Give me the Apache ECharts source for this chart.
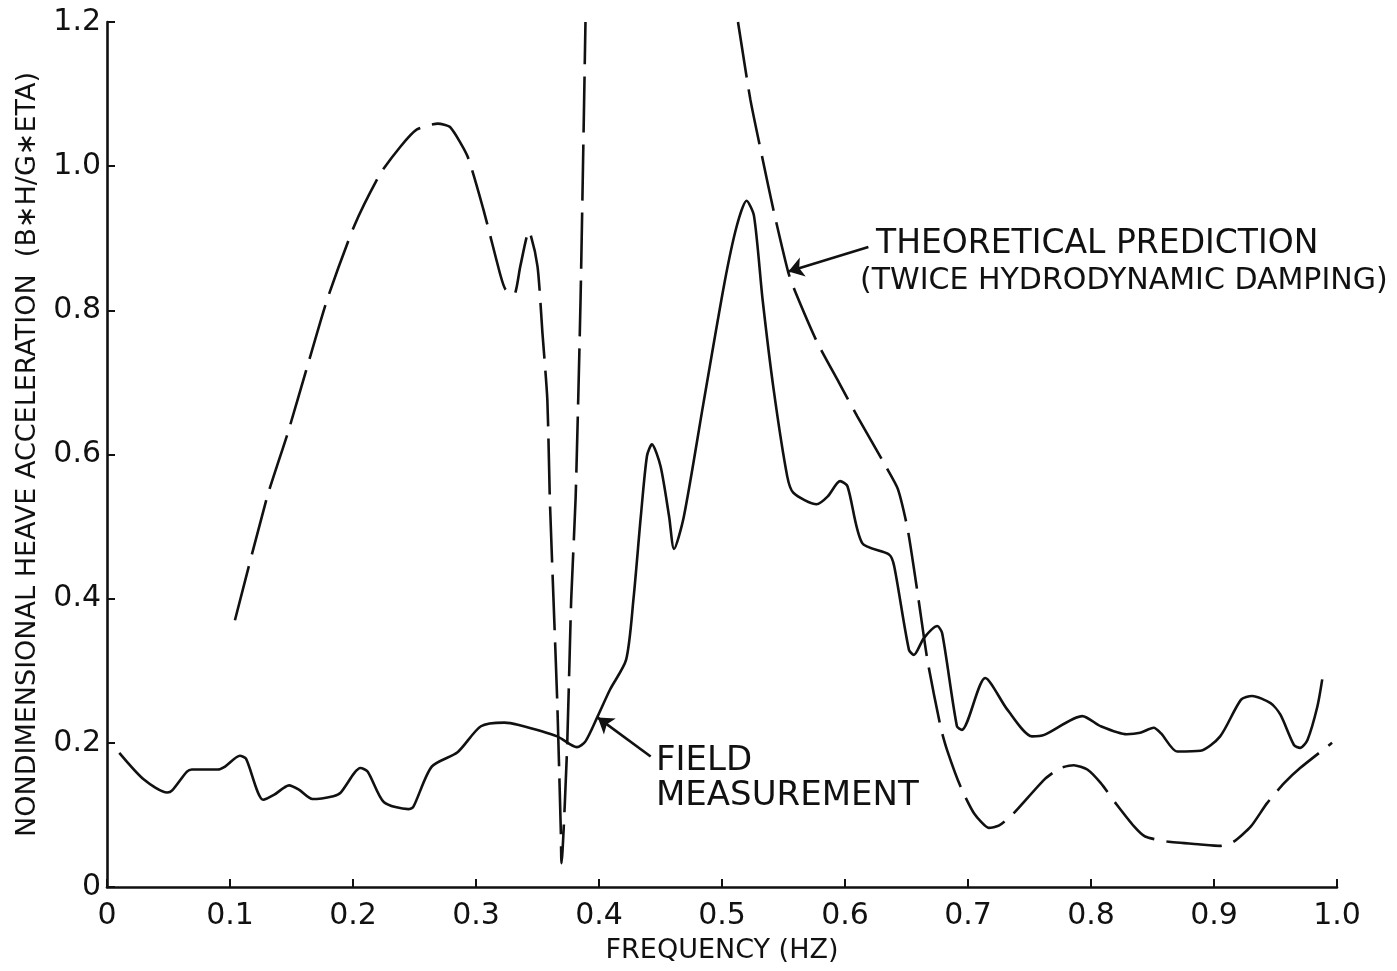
<!DOCTYPE html>
<html>
<head>
<meta charset="utf-8">
<script src="https://cdn.jsdelivr.net/npm/echarts@6/dist/echarts.min.js"></script>
<style>
  html, body { margin: 0; padding: 0; background: #fff; }
  #chart { width: 1397px; height: 971px; }
</style>
</head>
<body>
<div id="chart"></div>
<script>
// Field measurement of heave acceleration vs. frequency (solid curve)
const fieldFreq = [
  0.010, 0.030, 0.049, 0.053, 0.065, 0.069, 0.090, 0.096, 0.108, 0.113,
  0.127, 0.136, 0.148, 0.156, 0.167, 0.184, 0.190, 0.201, 0.206, 0.212,
  0.225, 0.245, 0.249, 0.264, 0.285, 0.304, 0.323, 0.334, 0.366, 0.382,
  0.389, 0.399, 0.409, 0.422, 0.428, 0.434, 0.439, 0.443, 0.450, 0.457,
  0.461, 0.469, 0.485, 0.502, 0.512, 0.520, 0.526, 0.533, 0.542, 0.553,
  0.558, 0.577, 0.586, 0.596, 0.602, 0.614, 0.636, 0.640, 0.652, 0.656,
  0.664, 0.675, 0.679, 0.691, 0.695, 0.714, 0.732, 0.752, 0.762, 0.793,
  0.808, 0.829, 0.840, 0.851, 0.857, 0.870, 0.889, 0.905, 0.922, 0.931,
  0.946, 0.954, 0.965, 0.970, 0.976, 0.984, 0.988
];
const fieldAcc = [
  0.186, 0.149, 0.131, 0.134, 0.160, 0.163, 0.163, 0.167, 0.182, 0.178,
  0.121, 0.128, 0.141, 0.135, 0.122, 0.126, 0.131, 0.158, 0.165, 0.160,
  0.118, 0.108, 0.111, 0.167, 0.187, 0.223, 0.228, 0.225, 0.209, 0.194,
  0.202, 0.237, 0.274, 0.315, 0.399, 0.514, 0.598, 0.614, 0.584, 0.514,
  0.469, 0.514, 0.672, 0.838, 0.917, 0.952, 0.931, 0.815, 0.690, 0.570,
  0.547, 0.531, 0.542, 0.563, 0.556, 0.477, 0.461, 0.445, 0.329, 0.322,
  0.345, 0.362, 0.352, 0.223, 0.218, 0.290, 0.246, 0.209, 0.211, 0.237,
  0.223, 0.212, 0.214, 0.221, 0.213, 0.188, 0.189, 0.209, 0.260, 0.265,
  0.255, 0.239, 0.197, 0.193, 0.204, 0.250, 0.288
];

// Theoretical prediction, twice hydrodynamic damping (dashed curve);
// null marks the stretch that runs above the top of the axis
const theoryFreq = [
  0.104, 0.130, 0.147, 0.163, 0.179, 0.201, 0.222, 0.239, 0.252, 0.269,
  0.279, 0.293, 0.306, 0.320, 0.324, 0.331, 0.336, 0.343, 0.350, 0.354,
  0.358, 0.360, 0.363, 0.366, 0.369, 0.3695, 0.374, 0.3774, 0.381, 0.385,
  0.389, 0.45,
  0.513, 0.523, 0.533, 0.542, 0.554, 0.560, 0.577, 0.595, 0.610, 0.633,
  0.643, 0.651, 0.659, 0.667, 0.678, 0.683, 0.694, 0.705, 0.717, 0.725,
  0.737, 0.762, 0.775, 0.786, 0.797, 0.808, 0.821, 0.835, 0.844, 0.862,
  0.889, 0.905, 0.916, 0.930, 0.943, 0.957, 0.970, 0.996
];
const theoryAcc = [
  0.370, 0.540, 0.630, 0.723, 0.815, 0.917, 0.989, 1.028, 1.051, 1.059,
  1.054, 1.014, 0.940, 0.848, 0.829, 0.822, 0.861, 0.910, 0.861, 0.769,
  0.676, 0.540, 0.399, 0.260, 0.075, 0.033, 0.190, 0.399, 0.540, 0.815,
  1.200, null,
  1.200, 1.093, 1.010, 0.938, 0.852, 0.824, 0.757, 0.700, 0.653, 0.584,
  0.552, 0.496, 0.408, 0.315, 0.220, 0.190, 0.139, 0.102, 0.082, 0.085,
  0.102, 0.149, 0.165, 0.169, 0.163, 0.144, 0.114, 0.084, 0.070, 0.063,
  0.059, 0.057, 0.063, 0.084, 0.116, 0.144, 0.165, 0.200
];

const xTicks = [0, 0.1, 0.2, 0.3, 0.4, 0.5, 0.6, 0.7, 0.8, 0.9, 1.0];
const yTicks = [0, 0.2, 0.4, 0.6, 0.8, 1.0, 1.2];

const FONT = 'DejaVu Sans';
const INK = '#111';

const fieldData = fieldFreq.map((f, i) => [f, fieldAcc[i]]);
const theoryData = theoryFreq.map((f, i) => [f, theoryAcc[i]]);

const fmt = v => (Math.abs(v) < 1e-9 ? '0' : v.toFixed(1));

const chart = echarts.init(document.getElementById('chart'), null, { renderer: 'canvas' });

// pointer arrows from the callout text to each curve
const pointer = (from, to) => ({
  silent: true,
  symbol: ['none', 'arrow'],
  symbolSize: 15,
  lineStyle: { color: INK, width: 2.6, type: 'solid' },
  label: { show: false },
  data: [[{ coord: from }, { coord: to }]]
});

chart.setOption({
  backgroundColor: '#ffffff',
  animation: false,
  grid: { left: 107, right: 60, top: 22, bottom: 84, containLabel: false },
  xAxis: {
    type: 'value',
    min: xTicks[0],
    max: xTicks[xTicks.length - 1],
    interval: 0.1,
    name: 'FREQUENCY (HZ)',
    nameLocation: 'middle',
    nameGap: 50,
    nameTextStyle: { fontFamily: FONT, fontSize: 27, color: INK },
    axisLine: { show: true, onZero: false, lineStyle: { color: INK, width: 2.6 } },
    axisTick: { show: true, inside: true, length: 8, lineStyle: { color: INK, width: 2 } },
    axisLabel: { fontFamily: FONT, fontSize: 30, color: INK, margin: 14, formatter: fmt },
    splitLine: { show: false }
  },
  yAxis: {
    type: 'value',
    min: yTicks[0],
    max: yTicks[yTicks.length - 1],
    interval: 0.2,
    name: 'NONDIMENSIONAL HEAVE ACCELERATION  (B∗H/G∗ETA)',
    nameLocation: 'middle',
    nameGap: 66,
    nameTextStyle: { fontFamily: FONT, fontSize: 27, color: INK },
    axisLine: { show: true, onZero: false, lineStyle: { color: INK, width: 2.6 } },
    axisTick: { show: true, inside: true, length: 8, lineStyle: { color: INK, width: 2 } },
    axisLabel: { fontFamily: FONT, fontSize: 30, color: INK, margin: 6, formatter: fmt },
    splitLine: { show: false }
  },
  series: [
    {
      name: 'FIELD MEASUREMENT',
      type: 'line',
      data: fieldData,
      showSymbol: false,
      smooth: 0.25,
      lineStyle: { color: INK, width: 2.6 },
      markLine: pointer([0.442, 0.181], [0.399, 0.235])
    },
    {
      name: 'THEORETICAL PREDICTION',
      type: 'line',
      data: theoryData,
      showSymbol: false,
      connectNulls: false,
      smooth: 0.2,
      lineStyle: { color: INK, width: 2.6, type: [56, 12] },
      markLine: pointer([0.619, 0.888], [0.554, 0.854])
    }
  ],
  graphic: [
    { type: 'text', left: 876, top: 228, style: { text: 'THEORETICAL PREDICTION', font: '33px "DejaVu Sans"', fill: INK } },
    { type: 'text', left: 860, top: 266, style: { text: '(TWICE HYDRODYNAMIC DAMPING)', font: '30px "DejaVu Sans"', fill: INK } },
    { type: 'text', left: 656, top: 744, style: { text: 'FIELD', font: '34px "DejaVu Sans"', fill: INK } },
    { type: 'text', left: 656, top: 779, style: { text: 'MEASUREMENT', font: '34px "DejaVu Sans"', fill: INK } }
  ]
});
</script>
</body>
</html>
